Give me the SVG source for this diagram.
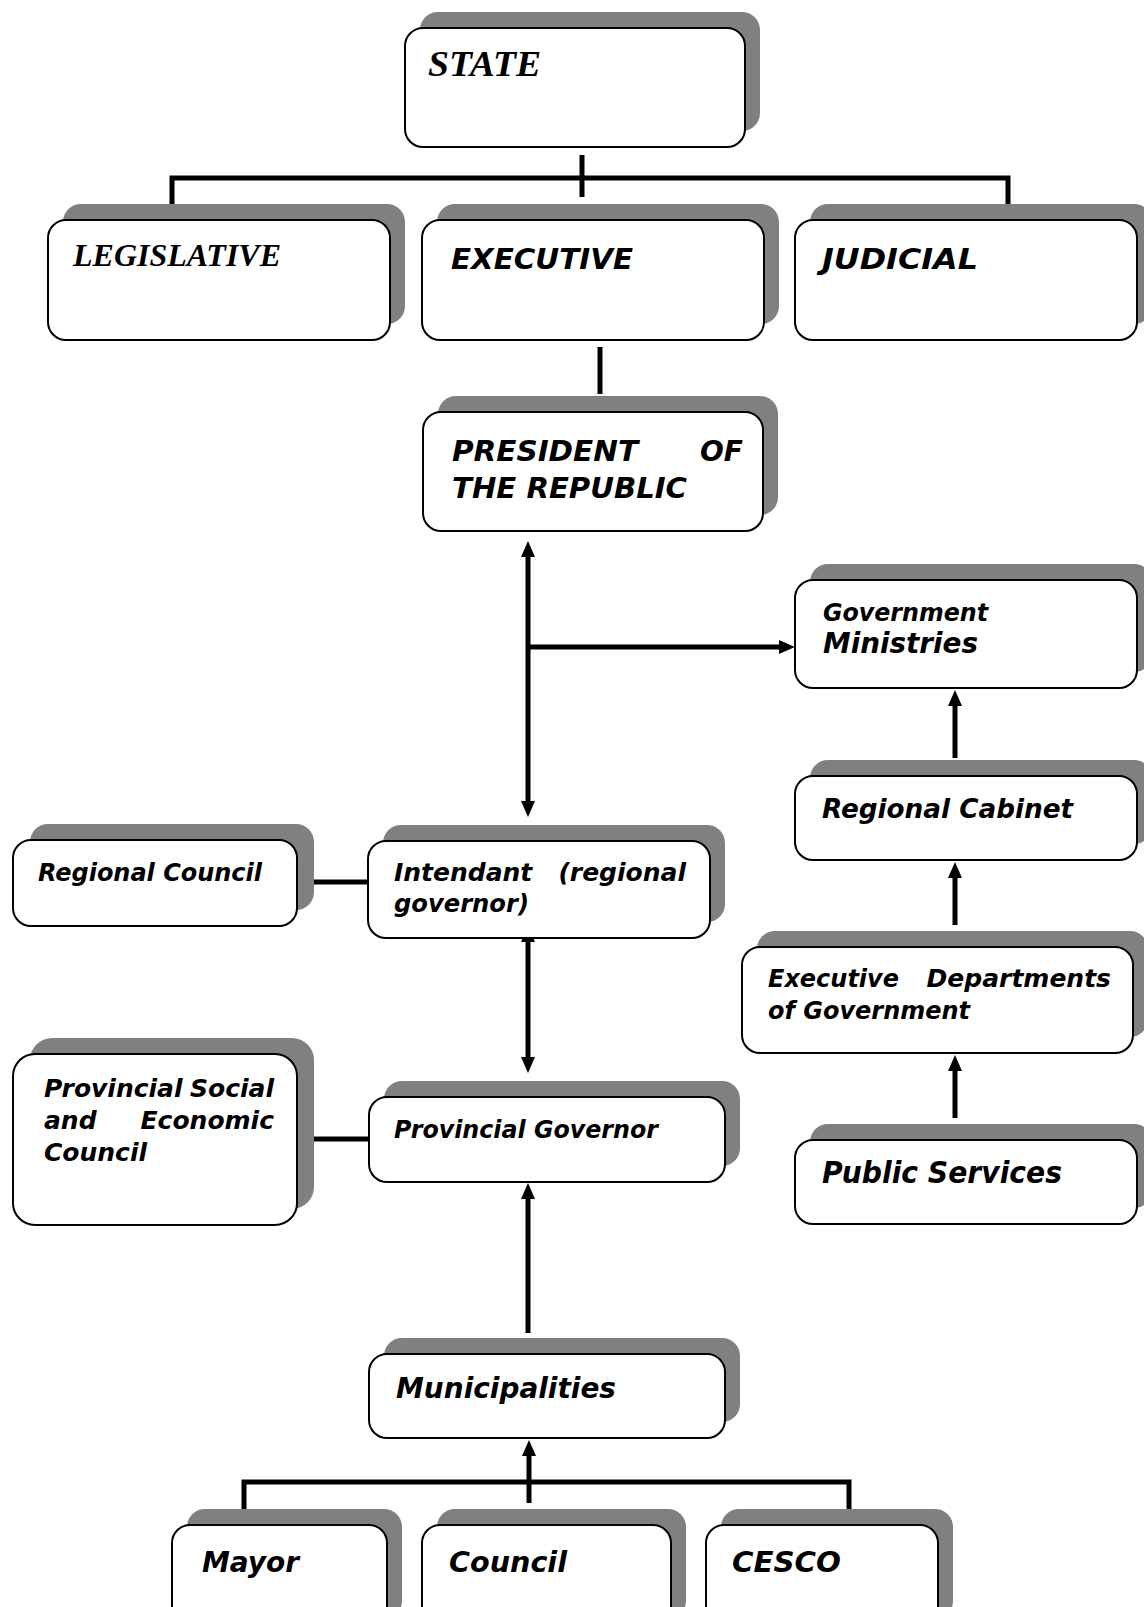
<svg xmlns="http://www.w3.org/2000/svg" width="1144" height="1607" viewBox="0 0 1144 1607">
<defs>
<style>
.sh{fill:#808080;}
.bx{fill:#fff;stroke:#000;stroke-width:2;}
.v{font-family:"DejaVu Sans",Verdana,sans-serif;font-weight:bold;font-style:italic;fill:#000;}
.t{font-family:"Liberation Serif","Times New Roman",serif;font-weight:bold;font-style:italic;fill:#000;}
.ln{fill:none;stroke:#000;stroke-width:5;}
.ar{fill:none;stroke:#000;stroke-width:5;marker-end:url(#ah);}
.ar2{fill:none;stroke:#000;stroke-width:5;marker-end:url(#ah);marker-start:url(#ah);}
</style>
<marker id="ah" markerUnits="userSpaceOnUse" markerWidth="16" markerHeight="14" refX="4" refY="7" orient="auto-start-reverse">
<path d="M0,0 L16,7 L0,14 z" fill="#000"/>
</marker>
</defs>
<rect width="1144" height="1607" fill="#fff"/>

<g id="connectors">
<path class="ln" d="M582,155 V197"/>
<path class="ln" d="M172,220 V178 H1008 V220"/>
<path class="ln" d="M600,347 V394"/>
<path class="ar2" d="M528,553 V805"/>
<path class="ar" d="M528,647 H783"/>
<path class="ar" d="M955,758 V702"/>
<path class="ar" d="M955,925 V874"/>
<path class="ar" d="M955,1118 V1067"/>
<path class="ln" d="M297,882 H368"/>
<path class="ar2" d="M528,938 V1061"/>
<path class="ln" d="M297,1139 H369"/>
<path class="ar" d="M528,1333 V1195"/>
<path class="ln" d="M244,1525 V1482 H849 V1525"/>
<path class="ar" d="M529,1503 V1452"/>
</g>

<g id="state">
<rect class="sh" x="420" y="12" width="340" height="119" rx="18"/>
<rect class="bx" x="405" y="28" width="340" height="119" rx="18"/>
<text class="t" x="428" y="76" font-size="35" textLength="113" lengthAdjust="spacingAndGlyphs">STATE</text>
</g>

<g id="legislative">
<rect class="sh" x="63" y="204" width="342" height="120" rx="18"/>
<rect class="bx" x="48" y="220" width="342" height="120" rx="18"/>
<text class="t" x="73" y="266" font-size="32" textLength="208" lengthAdjust="spacingAndGlyphs">LEGISLATIVE</text>
</g>

<g id="executive">
<rect class="sh" x="437" y="204" width="342" height="120" rx="18"/>
<rect class="bx" x="422" y="220" width="342" height="120" rx="18"/>
<text class="v" x="451" y="269" font-size="28" textLength="182" lengthAdjust="spacingAndGlyphs">EXECUTIVE</text>
</g>

<g id="judicial">
<rect class="sh" x="810" y="204" width="342" height="120" rx="18"/>
<rect class="bx" x="795" y="220" width="342" height="120" rx="18"/>
<text class="v" x="822" y="269" font-size="28" textLength="156" lengthAdjust="spacingAndGlyphs">JUDICIAL</text>
</g>

<g id="president">
<rect class="sh" x="438" y="396" width="340" height="119" rx="18"/>
<rect class="bx" x="423" y="412" width="340" height="119" rx="18"/>
<text class="v" x="452" y="461" font-size="28" textLength="186" lengthAdjust="spacingAndGlyphs">PRESIDENT</text>
<text class="v" x="743" y="461" font-size="28" text-anchor="end">OF</text>
<text class="v" x="452" y="498" font-size="28" textLength="235" lengthAdjust="spacingAndGlyphs">THE REPUBLIC</text>
</g>

<g id="ministries">
<rect class="sh" x="810" y="564" width="342" height="108" rx="18"/>
<rect class="bx" x="795" y="580" width="342" height="108" rx="18"/>
<text class="v" x="823" y="621" font-size="25" textLength="165" lengthAdjust="spacingAndGlyphs">Government</text>
<text class="v" x="823" y="653" font-size="29" textLength="155" lengthAdjust="spacingAndGlyphs">Ministries</text>
</g>

<g id="regional-cabinet">
<rect class="sh" x="810" y="760" width="342" height="84" rx="18"/>
<rect class="bx" x="795" y="776" width="342" height="84" rx="18"/>
<text class="v" x="822" y="818" font-size="27" textLength="251" lengthAdjust="spacingAndGlyphs">Regional Cabinet</text>
</g>

<g id="exec-departments">
<rect class="sh" x="757" y="931" width="391" height="106" rx="18"/>
<rect class="bx" x="742" y="947" width="391" height="106" rx="18"/>
<text class="v" x="768" y="987" font-size="25" textLength="131" lengthAdjust="spacingAndGlyphs">Executive</text>
<text class="v" x="1111" y="987" font-size="25" text-anchor="end">Departments</text>
<text class="v" x="768" y="1019" font-size="25" textLength="202" lengthAdjust="spacingAndGlyphs">of Government</text>
</g>

<g id="public-services">
<rect class="sh" x="810" y="1124" width="342" height="84" rx="18"/>
<rect class="bx" x="795" y="1140" width="342" height="84" rx="18"/>
<text class="v" x="822" y="1183" font-size="30" textLength="240" lengthAdjust="spacingAndGlyphs">Public Services</text>
</g>

<g id="regional-council">
<rect class="sh" x="30" y="824" width="284" height="86" rx="18"/>
<rect class="bx" x="13" y="840" width="284" height="86" rx="18"/>
<text class="v" x="38" y="881" font-size="25" textLength="224" lengthAdjust="spacingAndGlyphs">Regional Council</text>
</g>

<g id="intendant">
<rect class="sh" x="383" y="825" width="342" height="97" rx="18"/>
<rect class="bx" x="368" y="841" width="342" height="97" rx="18"/>
<text class="v" x="394" y="881" font-size="25">Intendant</text>
<text class="v" x="686" y="881" font-size="25" text-anchor="end">(regional</text>
<text class="v" x="394" y="912" font-size="25" textLength="135" lengthAdjust="spacingAndGlyphs">governor)</text>
</g>

<g id="provincial-council">
<rect class="sh" x="30" y="1038" width="284" height="171" rx="22"/>
<rect class="bx" x="13" y="1054" width="284" height="171" rx="22"/>
<text class="v" x="44" y="1097" font-size="25">Provincial</text>
<text class="v" x="274" y="1097" font-size="25" text-anchor="end">Social</text>
<text class="v" x="44" y="1129" font-size="25">and</text>
<text class="v" x="274" y="1129" font-size="25" text-anchor="end">Economic</text>
<text class="v" x="44" y="1161" font-size="25">Council</text>
</g>

<g id="provincial-governor">
<rect class="sh" x="384" y="1081" width="356" height="85" rx="18"/>
<rect class="bx" x="369" y="1097" width="356" height="85" rx="18"/>
<text class="v" x="394" y="1138" font-size="25" textLength="264" lengthAdjust="spacingAndGlyphs">Provincial Governor</text>
</g>

<g id="municipalities">
<rect class="sh" x="384" y="1338" width="356" height="84" rx="18"/>
<rect class="bx" x="369" y="1354" width="356" height="84" rx="18"/>
<text class="v" x="396" y="1398" font-size="29" textLength="220" lengthAdjust="spacingAndGlyphs">Municipalities</text>
</g>

<g id="mayor">
<rect class="sh" x="187" y="1509" width="215" height="110" rx="18"/>
<rect class="bx" x="172" y="1525" width="215" height="110" rx="18"/>
<text class="v" x="202" y="1572" font-size="29" textLength="97" lengthAdjust="spacingAndGlyphs">Mayor</text>
</g>

<g id="council">
<rect class="sh" x="437" y="1509" width="249" height="110" rx="18"/>
<rect class="bx" x="422" y="1525" width="249" height="110" rx="18"/>
<text class="v" x="449" y="1572" font-size="29" textLength="118" lengthAdjust="spacingAndGlyphs">Council</text>
</g>

<g id="cesco">
<rect class="sh" x="721" y="1509" width="232" height="110" rx="18"/>
<rect class="bx" x="706" y="1525" width="232" height="110" rx="18"/>
<text class="v" x="732" y="1572" font-size="29" textLength="109" lengthAdjust="spacingAndGlyphs">CESCO</text>
</g>
</svg>
